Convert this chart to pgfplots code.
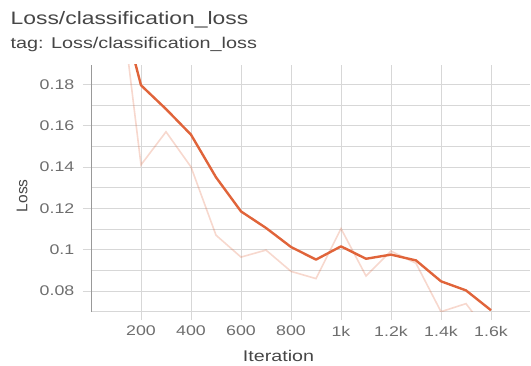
\documentclass[border=0pt]{standalone}
\usepackage{pgfplots}
\pgfplotsset{compat=1.18}
\usepackage{fontspec}
\setmainfont[FakeStretch=1.27]{Liberation Sans}
\newfontfamily\plainfont{Liberation Sans}
\definecolor{tbor}{RGB}{224,100,58}
\definecolor{gridc}{RGB}{215,215,215}
\definecolor{txt}{RGB}{70,70,70}
\definecolor{tick}{RGB}{110,110,110}
\begin{document}
\begin{tikzpicture}
\useasboundingbox (0pt,0pt) rectangle (531pt,365pt);
\node[anchor=base west, inner sep=0pt, text=txt, font=\fontsize{18}{20}\selectfont] at (10.5pt,340pt) {Loss/classification\_loss};
\node[anchor=base west, inner sep=0pt, text=txt, font=\fontsize{15.6}{17}\selectfont] at (10.5pt,316pt) {tag: Loss/classification\_loss};
\begin{axis}[
  at={(91pt,53.3pt)}, anchor=south west,
  scale only axis, width=439pt, height=246.7pt,
  xmin=0, xmax=1756, ymin=0.07, ymax=0.1893,
  axis lines*=left,
  x axis line style={draw=none},
  y axis line style={draw=black!40, line width=0.8pt},
  xtick={200,400,600,800,1000,1200,1400,1600},
  xticklabels={200,400,600,800,1k,1.2k,1.4k,1.6k},
  ytick={0.08,0.1,0.12,0.14,0.16,0.18},
  yticklabels={0.08,0.1,0.12,0.14,0.16,0.18},
  minor ytick={0.07,0.09,0.11,0.13,0.15,0.17},
  grid=both,
  major grid style={draw=gridc, line width=0.7pt},
  minor grid style={draw=gridc, line width=0.7pt},
  tick align=outside,
  major tick length=8pt,
  minor tick length=0pt,
  tick style={draw=gridc, line width=0.7pt},
  yticklabel style={font=\fontsize{14}{16}\selectfont, text=tick, anchor=east, inner sep=0pt, xshift=-8.5pt},
  xticklabel style={font=\fontsize{14}{16}\selectfont, text=tick, anchor=north, inner sep=0pt, yshift=-6pt},
  xlabel={Iteration}, ylabel={Loss},
  xlabel style={font=\fontsize{15.5}{17}\selectfont, text=txt, anchor=base, at={(axis description cs:0.427,0)}, yshift=-49.3pt},
  ylabel style={font=\plainfont\fontsize{15.5}{17}\selectfont, text=txt, at={(axis description cs:-0.157,0.47)}, anchor=center},
  scaled y ticks=false,
  clip=true,
  /pgf/number format/assume math mode=true,
]
\addplot[draw=tbor, draw opacity=0.25, line width=1.6pt] coordinates {
(100,0.240) (200,0.141) (300,0.157) (400,0.140) (500,0.107) (600,0.0964) (700,0.0998) (800,0.0895) (900,0.086) (1000,0.1102) (1100,0.0873) (1200,0.0993) (1300,0.0934) (1400,0.0700) (1500,0.0739) (1600,0.058)
};
\addplot[draw=tbor, line width=2.4pt, line join=round] coordinates {
(100,0.226) (200,0.1795) (300,0.168) (400,0.1556) (500,0.135) (600,0.1185) (700,0.1105) (800,0.1013) (900,0.0952) (1000,0.1016) (1100,0.0956) (1200,0.0976) (1300,0.0948) (1400,0.0847) (1500,0.0803) (1600,0.0707)
};
\end{axis}
\end{tikzpicture}
\end{document}
